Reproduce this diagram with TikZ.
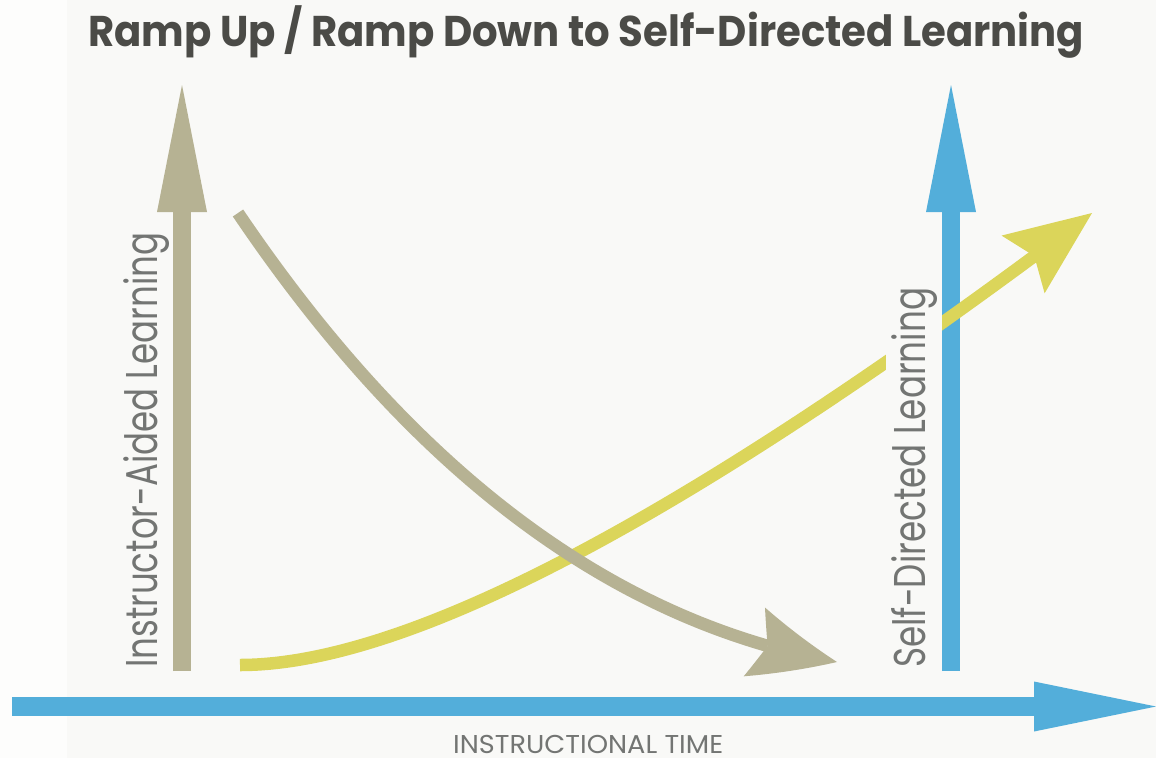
\documentclass[tikz,border=0pt]{standalone}
\usepackage{fontspec}
\usepackage{graphicx}
\setmainfont{Poppins}
\usetikzlibrary{arrows.meta,bending}

\definecolor{bgmain}{HTML}{F9F9F7}
\definecolor{bgleft}{HTML}{FDFDFC}
\definecolor{khaki}{HTML}{B6B293}
\definecolor{skyblue}{HTML}{53AEDA}
\definecolor{lime}{HTML}{DBD55A}
\definecolor{labelgrey}{HTML}{737573}
\definecolor{titlegrey}{HTML}{4B4B47}

% set a text to a given width, keeping its natural height
\newcommand{\fitwidth}[2]{\resizebox{#1}{\height}{#2}}

\begin{document}
\begin{tikzpicture}[x=1pt,y=-1pt,
  axisline/.style={line width=18pt, line cap=butt,
    -{Triangle[length=127pt,width=50pt,line width=0pt]}},
  trendline/.style={line width=12.5pt, line cap=butt},
  trendtip/.style={-{Stealth[length=86pt,width=72pt,inset=14pt,line width=0pt]}},
  benttip/.style={-{Stealth[length=86pt,width=72pt,inset=14pt,line width=0pt,bend]}},
  sidelabel/.style={text=labelgrey, font=\fontsize{44.5}{50}\selectfont,
    inner sep=0pt, rotate=90, anchor=base west},
  titletext/.style={text=titlegrey, font=\fontsize{43}{48}\selectfont\bfseries,
    inner sep=0pt, anchor=base west}]

% canvas
\useasboundingbox (0,0) rectangle (1156,758);
\fill[bgmain] (0,0) rectangle (1156,758);
\fill[bgleft] (0,0) rectangle (67,758);

% anchor points of the axes and curves
\coordinate (timeStart) at (12,706.5);
\coordinate (timeEnd) at (1156,706.5);
\coordinate (iaBase) at (182,671);
\coordinate (iaTop) at (182,85);
\coordinate (sdBase) at (951,671);
\coordinate (sdTop) at (951,85);
\coordinate (upStart) at (240,665);
\coordinate (upEnd) at (1092,213);
\coordinate (downStart) at (238,213);
\coordinate (downEnd) at (837,662);

% horizontal time axis
\draw[axisline, skyblue, line width=19pt,
  -{Triangle[length=122pt,width=50pt,line width=0pt]}] (timeStart) -- (timeEnd);

% vertical axes
\draw[axisline, khaki] (iaBase) -- (iaTop);
\draw[axisline, skyblue] (sdBase) -- (sdTop);

% ramp up (self-directed) curve
\draw[trendline, lime, trendtip] (upStart)
  .. controls (440,665) and (771,455) .. (upEnd);

% ramp down (instructor-aided) curve
\draw[trendline, khaki, benttip] (downStart)
  .. controls (413,472) and (613,622) .. (downEnd);

% labels
\node[titletext] (title) at (88,46)
  {\fitwidth{996pt}{Ramp Up / Ramp Down to Self-Directed Learning}};
\node[sidelabel] (iaLabel) at (157,668)
  {\fitwidth{435pt}{Instructor-Aided Learning}};
\node[sidelabel, fill=bgmain, inner ysep=5pt] (sdLabel) at (925,668)
  {\fitwidth{380pt}{Self-Directed Learning}};
\node[text=labelgrey, font=\fontsize{25.8}{30}\selectfont, inner sep=0pt,
  anchor=base west] (timeLabel) at (453,753)
  {\fitwidth{270pt}{INSTRUCTIONAL TIME}};

\end{tikzpicture}
\end{document}
